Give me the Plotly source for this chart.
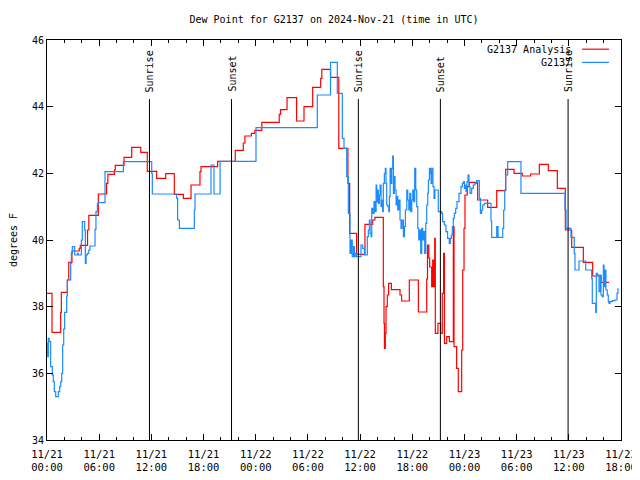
import pandas as pd
import plotly.graph_objects as go

title_text = "Dew Point for G2137 on 2024-Nov-21 (time in UTC)"
start_time = "2024-11-21 00:00"
end_time = "2024-11-23 18:00"

# Analysis series (hours since 11/21 00:00 UTC, deg F), stepwise
red_hours = [0, 0.575, 1.57, 1.65, 2.34, 2.5, 2.87, 3.71, 3.83, 4.66, 4.81, 5.9, 6.85, 7.0, 7.75, 7.85,
             8.86, 9.74, 10.78, 11.53, 12.61, 13.65, 14.64, 15.68, 16.56, 17.59, 17.71, 19.62, 21.65,
             22.57, 22.76, 23.5, 23.9, 24.7, 26.7, 26.85, 27.6, 28.7, 29.55, 30.55, 31.47, 31.6, 32.6,
             33.55, 34.6, 34.8, 35.6, 36.56, 37.45, 37.7, 38.67, 38.75, 38.8, 38.9, 38.98, 39.13, 39.28,
             39.6, 40.59, 40.78, 41.66, 42.7, 43.66, 43.75, 43.9, 44.0, 44.23, 44.35, 44.45, 44.58, 44.65,
             44.95, 45.25, 45.45, 45.6, 45.7, 45.96, 46.26, 46.72, 46.8, 47.1, 47.29, 47.68, 47.8, 47.95,
             48.06, 48.33, 48.56, 49.52, 50.67, 51.71, 52.74, 53.7, 54.65, 55.61, 56.61, 57.64, 58.68,
             59.6, 60.33, 61.67, 62.74, 63.7, 64.62]
red_values = [38.4, 37.23, 37.83, 38.43, 38.8, 39.33, 39.67, 39.75, 39.84, 40.3, 40.74, 41.38, 41.7, 41.97,
              42.1, 42.24, 42.48, 42.78, 42.63, 42.06, 41.85, 41.99, 41.37, 41.25, 41.65, 42.05, 42.2,
              42.36, 42.69, 42.91, 43.12, 43.2, 43.29, 43.53, 43.77, 43.91, 44.27, 43.57, 44.0, 44.58,
              44.85, 45.12, 44.88, 42.75, 41.7, 40.2, 39.57, 40.47, 40.6, 40.68, 38.6, 37.5, 36.75, 37.2,
              38.0, 38.35, 38.7, 38.51, 38.35, 38.17, 38.8, 37.84, 38.83, 39.85, 39.46, 39.19, 38.6, 39.4,
              38.6, 40.05, 37.2, 37.5, 37.2, 38.4, 39.6, 36.9, 37.1, 36.95, 40.4, 36.8, 36.15, 35.45, 36.7,
              39.1, 40.35, 41.35, 41.6, 41.73, 41.2, 40.98, 41.48, 42.12, 42.0, 41.92, 41.98, 42.27, 42.08,
              41.55, 40.3, 39.78, 39.33, 38.92, 38.73, 38.73]

# Observed series (hours since 11/21 00:00 UTC, deg F), stepwise
blue_hours = [0, 0.08, 0.15, 0.25, 0.42, 0.61, 0.72, 0.84, 1.0, 1.3, 1.46, 1.58, 1.69, 1.8, 1.92, 2.03,
              2.26, 2.34, 2.72, 2.8, 2.91, 3.18, 3.5, 3.6, 3.95, 4.06, 4.33, 4.41, 4.5, 4.64, 4.8, 4.94,
              5.52, 5.63, 5.79, 5.9, 6.67, 8.78, 12.04, 12.11, 14.91, 15.02, 15.22, 16.94, 17.02, 18.86,
              19.2, 19.9, 24.03, 31.08, 32.6, 33.38, 33.96, 34.15, 34.46, 34.65, 34.84, 34.96, 35.1,
              35.25, 35.35, 35.5, 35.6, 35.9, 36.1, 36.3, 36.5, 36.83, 36.95, 37.07, 37.15, 37.26, 37.34,
              37.45, 37.6, 37.72, 37.84, 37.91, 38.03, 38.1, 38.22, 38.3, 38.41, 38.49, 38.6, 38.67,
              38.79, 38.9, 38.98, 39.06, 39.18, 39.3, 39.37, 39.45, 39.56, 39.64, 39.75, 39.83, 39.94,
              40.02, 40.14, 40.22, 40.33, 40.45, 40.59, 40.71, 40.83, 40.98, 41.1, 41.21, 41.37, 41.48,
              41.6, 41.71, 41.83, 41.94, 42.06, 42.17, 42.28, 42.4, 42.51, 42.63, 42.74, 42.86, 42.97,
              43.09, 43.2, 43.32, 43.43, 43.55, 43.66, 43.78, 43.85, 43.97, 44.08, 44.16, 44.23, 44.38,
              44.5, 44.6, 44.99, 45.38, 45.49, 45.68, 45.87, 46.06, 46.26, 46.37, 46.49, 46.6, 46.72,
              46.83, 46.99, 47.14, 47.37, 47.6, 47.76, 47.91, 47.99, 48.06, 48.18, 48.29, 48.41, 48.52,
              48.64, 48.83, 49.02, 49.21, 49.4, 49.71, 49.83, 49.98, 50.1, 50.29, 51.05, 51.13, 51.71,
              51.75, 51.83, 51.86, 52.4, 52.51, 52.63, 52.74, 52.97, 54.5, 59.56, 59.68, 60.25, 60.63,
              60.71, 61.17, 61.94, 62.63, 62.7, 63.09, 63.16, 63.3, 63.47, 63.62, 63.7, 63.85, 63.97,
              64.05, 64.16, 64.27, 64.42, 64.54, 64.62, 64.73, 65.0, 65.31, 65.54, 65.65]
blue_values = [36.9, 36.5, 37.05, 36.95, 36.2, 35.95, 35.75, 35.45, 35.3, 35.45, 35.6, 35.75, 36.0, 36.85,
               37.33, 37.83, 38.32, 38.8, 39.3, 39.6, 39.8, 39.55, 39.6, 39.55, 40.0, 40.55, 40.3, 39.3,
               39.55, 39.6, 39.7, 39.82, 40.32, 40.85, 41.08, 41.12, 42.05, 42.35, 42.0, 41.38, 41.25,
               40.6, 40.35, 40.9, 41.38, 42.25, 41.38, 42.36, 43.37, 44.35, 45.33, 44.4, 43.05, 42.75,
               41.9, 40.8, 39.6, 40.0, 39.5, 39.8, 39.5, 39.6, 39.5, 39.5, 39.85, 39.75, 39.55, 40.1,
               40.3, 40.6, 40.2, 40.1, 40.95, 40.8, 41.15, 40.85, 41.65, 41.15, 41.5, 41.1, 41.35, 41.65,
               41.0, 41.2, 40.85, 41.7, 42.0, 42.15, 41.7, 41.05, 41.0, 40.85, 41.3, 42.15, 41.7, 42.15,
               42.52, 41.4, 41.9, 41.5, 41.05, 41.3, 40.9, 41.2, 40.6, 40.35, 40.6, 40.1, 40.4, 40.9,
               41.5, 41.2, 40.9, 41.4, 40.85, 41.2, 41.5, 41.15, 42.15, 41.5, 41.0, 40.35, 40.0, 40.3,
               39.6, 40.35, 40.0, 40.25, 39.6, 40.5, 41.05, 41.4, 41.8, 42.15, 42.0, 41.7, 42.15, 41.6,
               41.25, 41.5, 40.85, 40.8, 40.55, 40.45, 40.25, 40.05, 39.9, 40.05, 40.15, 40.4, 40.65,
               40.8, 40.95, 41.15, 41.4, 41.6, 41.7, 41.75, 41.55, 41.65, 41.45, 41.75, 41.95, 41.6,
               41.4, 41.55, 41.65, 41.7, 41.78, 41.25, 40.8, 40.9, 41.05, 41.1, 40.57, 40.08, 40.4,
               40.08, 40.4, 40.08, 40.35, 40.9, 41.5, 41.95, 42.35, 41.4, 40.9, 40.35, 40.08, 39.6,
               39.1, 39.37, 39.1, 38.85, 38.1, 37.83, 39.0, 38.95, 38.45, 38.95, 38.35, 38.3, 39.25,
               38.6, 39.1, 38.5, 38.35, 38.15, 38.1, 38.15, 38.18, 38.2, 38.4, 38.55]

# Sun events (UTC)
event_times = ["2024-11-21 11:47", "2024-11-21 21:13", "2024-11-22 11:48",
               "2024-11-22 21:14", "2024-11-23 11:55"]
event_labels = ["Sunrise", "Sunset", "Sunrise", "Sunset", "Sunrise"]
event_line_top = 44.23

series_names = ["G2137 Analysis", "G2137"]
series_colors = ["#ff0000", "#1a8cff"]

y_range = [34, 46]
y_ticks = [34, 36, 38, 40, 42, 44, 46]

base = pd.Timestamp(start_time)
red_x = base + pd.to_timedelta(red_hours, unit="h")
blue_x = base + pd.to_timedelta(blue_hours, unit="h")

FONT = "DejaVu Sans Mono"
FS = 10
PAGE_OFFSET = 8  # default page margin around the plot div

fig = go.Figure()
fig.add_trace(go.Scatter(x=red_x, y=red_values, mode="lines", line_shape="hv",
                         line=dict(color=series_colors[0], width=1.2),
                         name=series_names[0], showlegend=False))
fig.add_trace(go.Scatter(x=blue_x, y=blue_values, mode="lines", line_shape="hv",
                         line=dict(color=series_colors[1], width=1.2),
                         name=series_names[1], showlegend=False))

for t, lab in zip(event_times, event_labels):
    fig.add_shape(type="line", xref="x", yref="y", x0=t, x1=t, y0=y_range[0], y1=event_line_top,
                  line=dict(color="black", width=1))
    fig.add_annotation(x=t, y=event_line_top, xref="x", yref="y", text=lab, textangle=-90,
                       showarrow=False, xanchor="center", yanchor="bottom", yshift=5,
                       font=dict(family=FONT, size=FS, color="black"))

# legend (gnuplot style: text left, sample right)
for i, (nm, col) in enumerate(zip(series_names, series_colors)):
    ypos = 0.977 - i * 0.033
    fig.add_annotation(x=0.917, y=ypos, xref="paper", yref="paper", text=nm, showarrow=False,
                       xanchor="right", yanchor="middle", font=dict(family=FONT, size=FS, color="black"))
    fig.add_shape(type="line", xref="paper", yref="paper", x0=0.932, x1=0.979, y0=ypos, y1=ypos,
                  line=dict(color=col, width=1.2))

fig.update_layout(
    width=640, height=480,
    margin=dict(l=47 - PAGE_OFFSET, r=19 + PAGE_OFFSET, t=40 - PAGE_OFFSET, b=40 + PAGE_OFFSET,
                autoexpand=False),
    paper_bgcolor="white", plot_bgcolor="white",
    title=dict(text=title_text, x=0.5, xanchor="center", xref="paper",
               y=1 - (19 - PAGE_OFFSET) / 480, yref="container", yanchor="middle",
               font=dict(family=FONT, size=FS, color="black")),
    font=dict(family=FONT, size=FS, color="black"),
)
fig.update_xaxes(
    type="date", range=[start_time, end_time], automargin=False,
    dtick=6 * 3600 * 1000, tick0=start_time, tickformat="%m/%d<br>%H:%M",
    ticks="inside", ticklen=6, tickcolor="black", showgrid=False, zeroline=False,
    showline=True, linecolor="black", linewidth=1, mirror="ticks", ticklabelstandoff=4,
    minor=dict(dtick=2 * 3600 * 1000, ticks="inside", ticklen=3, tickcolor="black", showgrid=False),
    tickfont=dict(family=FONT, size=10.5),
)
fig.update_yaxes(
    range=y_range, tickvals=y_ticks, ticks="inside", ticklen=6, tickcolor="black", automargin=False,
    showgrid=False, zeroline=False, showline=True, linecolor="black", linewidth=1, mirror="ticks",
    title=dict(text="degrees F", font=dict(family=FONT, size=FS), standoff=14),
    tickfont=dict(family=FONT, size=FS),
)

fig.write_html("out.html")
